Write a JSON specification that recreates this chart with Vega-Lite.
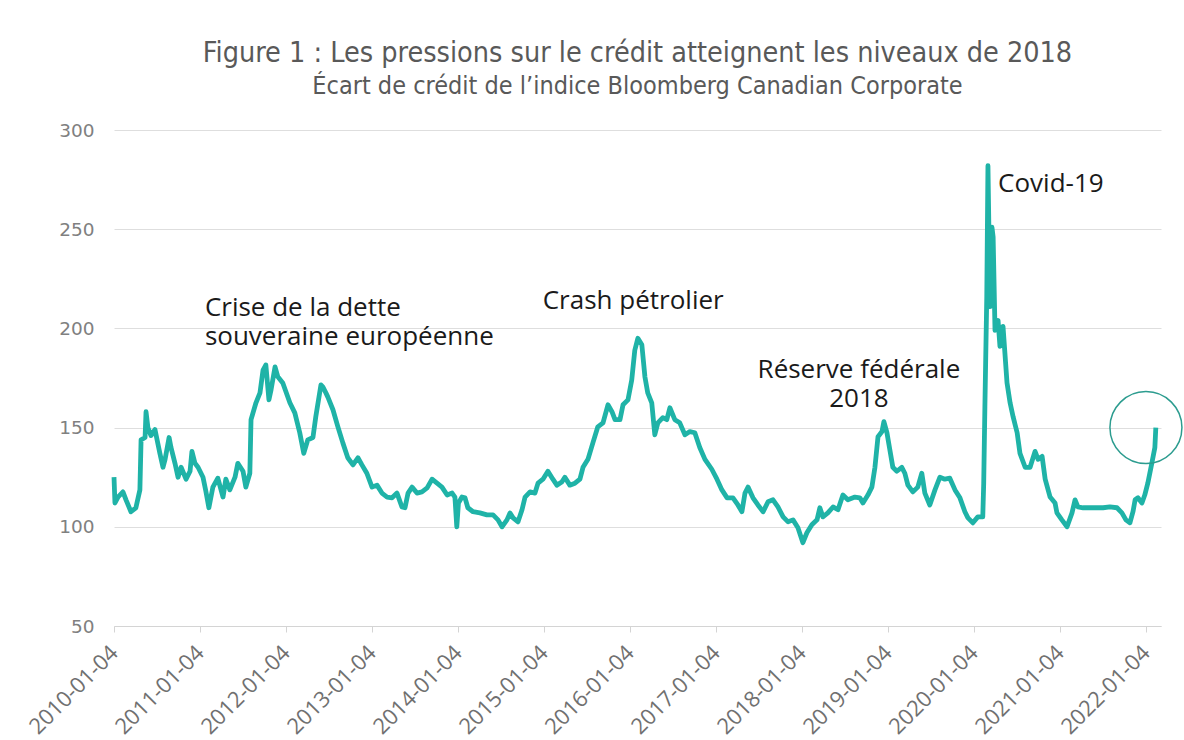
{
  "$schema": "https://vega.github.io/schema/vega-lite/v6.json",
  "width": 1047,
  "height": 496,
  "autosize": {"type": "none"},
  "padding": {"left": 114, "top": 130, "right": 23, "bottom": 114},
  "background": "white",
  "config": {"view": {"stroke": null}},
  "title": {
    "text": "Figure 1 : Les pressions sur le crédit atteignent les niveaux de 2018",
    "subtitle": "Écart de crédit de l’indice Bloomberg Canadian Corporate",
    "font": "DejaVu Sans Condensed, Roboto, sans-serif",
    "fontSize": 28.5,
    "fontWeight": "normal",
    "color": "#595959",
    "subtitleFont": "DejaVu Sans Condensed, Roboto, sans-serif",
    "subtitleFontSize": 25,
    "subtitleColor": "#595959",
    "subtitlePadding": 7,
    "anchor": "middle",
    "frame": "group",
    "offset": 22
  },
  "datasets": {
    "spread": [
      {"date": "2010-01-04", "spread": 125}, {"date": "2010-01-08", "spread": 112}, {"date": "2010-01-21", "spread": 115}, {"date": "2010-02-11", "spread": 117.6}, {"date": "2010-02-24", "spread": 113.6}, {"date": "2010-03-17", "spread": 107.6}, {"date": "2010-04-07", "spread": 109.6}, {"date": "2010-04-24", "spread": 118.6}, {"date": "2010-04-29", "spread": 143.8}, {"date": "2010-05-16", "spread": 145}, {"date": "2010-05-20", "spread": 158}, {"date": "2010-05-28", "spread": 150}, {"date": "2010-06-10", "spread": 146}, {"date": "2010-06-27", "spread": 149}, {"date": "2010-07-18", "spread": 137}, {"date": "2010-07-31", "spread": 130}, {"date": "2010-08-09", "spread": 134}, {"date": "2010-08-26", "spread": 145}, {"date": "2010-09-03", "spread": 140}, {"date": "2010-09-20", "spread": 132}, {"date": "2010-10-03", "spread": 125}, {"date": "2010-10-16", "spread": 130}, {"date": "2010-11-06", "spread": 124}, {"date": "2010-11-23", "spread": 128}, {"date": "2010-12-01", "spread": 138}, {"date": "2010-12-14", "spread": 132}, {"date": "2010-12-27", "spread": 130},
      {"date": "2011-01-17", "spread": 125}, {"date": "2011-01-29", "spread": 118}, {"date": "2011-02-11", "spread": 109.6}, {"date": "2011-02-28", "spread": 120}, {"date": "2011-03-21", "spread": 124.5}, {"date": "2011-04-12", "spread": 115}, {"date": "2011-04-24", "spread": 124}, {"date": "2011-05-11", "spread": 118.6}, {"date": "2011-06-02", "spread": 125}, {"date": "2011-06-14", "spread": 132}, {"date": "2011-07-06", "spread": 128}, {"date": "2011-07-18", "spread": 120}, {"date": "2011-08-04", "spread": 127}, {"date": "2011-08-09", "spread": 154}, {"date": "2011-08-30", "spread": 162.5}, {"date": "2011-09-16", "spread": 167.5}, {"date": "2011-09-29", "spread": 179}, {"date": "2011-10-11", "spread": 181.6}, {"date": "2011-10-24", "spread": 164}, {"date": "2011-11-02", "spread": 169}, {"date": "2011-11-19", "spread": 180.6}, {"date": "2011-12-01", "spread": 175.6}, {"date": "2011-12-22", "spread": 172.5},
      {"date": "2012-01-21", "spread": 162.5}, {"date": "2012-02-11", "spread": 157.4}, {"date": "2012-03-03", "spread": 147.4}, {"date": "2012-03-20", "spread": 137}, {"date": "2012-04-06", "spread": 143.8}, {"date": "2012-04-28", "spread": 145}, {"date": "2012-05-10", "spread": 155.4}, {"date": "2012-06-01", "spread": 171.5}, {"date": "2012-06-09", "spread": 170.5}, {"date": "2012-06-22", "spread": 167.5}, {"date": "2012-06-30", "spread": 165.5}, {"date": "2012-07-22", "spread": 159}, {"date": "2012-08-12", "spread": 150.4}, {"date": "2012-09-02", "spread": 142.3}, {"date": "2012-09-23", "spread": 134.8}, {"date": "2012-10-15", "spread": 131.2}, {"date": "2012-11-05", "spread": 134.8}, {"date": "2012-11-22", "spread": 131.2}, {"date": "2012-12-13", "spread": 127},
      {"date": "2013-01-04", "spread": 120}, {"date": "2013-01-25", "spread": 121}, {"date": "2013-02-15", "spread": 117}, {"date": "2013-03-09", "spread": 115}, {"date": "2013-03-30", "spread": 114.6}, {"date": "2013-04-20", "spread": 117}, {"date": "2013-05-11", "spread": 110}, {"date": "2013-05-24", "spread": 109.6}, {"date": "2013-06-06", "spread": 117}, {"date": "2013-06-23", "spread": 120}, {"date": "2013-07-14", "spread": 117}, {"date": "2013-08-04", "spread": 117.6}, {"date": "2013-08-26", "spread": 119.6}, {"date": "2013-09-16", "spread": 124}, {"date": "2013-10-07", "spread": 122}, {"date": "2013-10-28", "spread": 120}, {"date": "2013-11-19", "spread": 116}, {"date": "2013-12-10", "spread": 117}, {"date": "2013-12-22", "spread": 115}, {"date": "2013-12-30", "spread": 100},
      {"date": "2014-01-06", "spread": 112}, {"date": "2014-01-21", "spread": 115}, {"date": "2014-02-03", "spread": 114.6}, {"date": "2014-02-15", "spread": 109.6}, {"date": "2014-03-09", "spread": 107.6}, {"date": "2014-04-07", "spread": 107}, {"date": "2014-05-07", "spread": 106}, {"date": "2014-06-02", "spread": 106}, {"date": "2014-06-23", "spread": 103.5}, {"date": "2014-07-10", "spread": 100}, {"date": "2014-07-31", "spread": 103.5}, {"date": "2014-08-13", "spread": 107}, {"date": "2014-08-26", "spread": 104.5}, {"date": "2014-09-16", "spread": 102.5}, {"date": "2014-10-03", "spread": 108.6}, {"date": "2014-10-16", "spread": 115}, {"date": "2014-11-06", "spread": 117.6}, {"date": "2014-11-27", "spread": 117}, {"date": "2014-12-10", "spread": 122}, {"date": "2014-12-31", "spread": 124},
      {"date": "2015-01-21", "spread": 128}, {"date": "2015-02-11", "spread": 124}, {"date": "2015-02-28", "spread": 121}, {"date": "2015-03-21", "spread": 122.6}, {"date": "2015-04-03", "spread": 125}, {"date": "2015-04-24", "spread": 121}, {"date": "2015-05-16", "spread": 122}, {"date": "2015-06-06", "spread": 124}, {"date": "2015-06-19", "spread": 130}, {"date": "2015-07-10", "spread": 134}, {"date": "2015-07-31", "spread": 142.3}, {"date": "2015-08-21", "spread": 150.4}, {"date": "2015-09-12", "spread": 152.4}, {"date": "2015-10-03", "spread": 161.5}, {"date": "2015-10-20", "spread": 158}, {"date": "2015-11-02", "spread": 154}, {"date": "2015-11-23", "spread": 154}, {"date": "2015-12-06", "spread": 161.5}, {"date": "2015-12-27", "spread": 164},
      {"date": "2016-01-12", "spread": 174}, {"date": "2016-01-25", "spread": 189}, {"date": "2016-02-07", "spread": 195}, {"date": "2016-02-24", "spread": 191.7}, {"date": "2016-03-08", "spread": 175.6}, {"date": "2016-03-20", "spread": 167.5}, {"date": "2016-04-06", "spread": 162.5}, {"date": "2016-04-19", "spread": 146.4}, {"date": "2016-05-02", "spread": 152.4}, {"date": "2016-05-23", "spread": 155}, {"date": "2016-06-09", "spread": 154}, {"date": "2016-06-22", "spread": 160}, {"date": "2016-07-13", "spread": 154}, {"date": "2016-08-03", "spread": 152.4}, {"date": "2016-08-25", "spread": 146.4}, {"date": "2016-09-15", "spread": 148}, {"date": "2016-10-06", "spread": 147.4}, {"date": "2016-10-27", "spread": 140}, {"date": "2016-11-18", "spread": 134}, {"date": "2016-12-17", "spread": 129},
      {"date": "2017-01-08", "spread": 124}, {"date": "2017-01-29", "spread": 118.6}, {"date": "2017-02-20", "spread": 114.6}, {"date": "2017-03-17", "spread": 114.6}, {"date": "2017-04-07", "spread": 111}, {"date": "2017-04-24", "spread": 107.6}, {"date": "2017-05-07", "spread": 117}, {"date": "2017-05-20", "spread": 120}, {"date": "2017-06-10", "spread": 114.6}, {"date": "2017-07-01", "spread": 111}, {"date": "2017-07-23", "spread": 107.6}, {"date": "2017-08-13", "spread": 112.6}, {"date": "2017-09-03", "spread": 113.6}, {"date": "2017-09-24", "spread": 110}, {"date": "2017-10-16", "spread": 105}, {"date": "2017-11-06", "spread": 102.5}, {"date": "2017-11-27", "spread": 103.5}, {"date": "2017-12-18", "spread": 99.5},
      {"date": "2018-01-08", "spread": 92}, {"date": "2018-01-25", "spread": 97}, {"date": "2018-02-15", "spread": 101}, {"date": "2018-03-09", "spread": 103.5}, {"date": "2018-03-21", "spread": 109.6}, {"date": "2018-04-03", "spread": 105}, {"date": "2018-04-24", "spread": 107}, {"date": "2018-05-16", "spread": 110}, {"date": "2018-06-06", "spread": 108.6}, {"date": "2018-06-27", "spread": 116}, {"date": "2018-07-18", "spread": 113.6}, {"date": "2018-08-17", "spread": 115}, {"date": "2018-09-07", "spread": 114.6}, {"date": "2018-09-20", "spread": 112}, {"date": "2018-10-11", "spread": 116}, {"date": "2018-10-28", "spread": 120}, {"date": "2018-11-10", "spread": 130}, {"date": "2018-11-23", "spread": 145.4}, {"date": "2018-12-10", "spread": 148}, {"date": "2018-12-18", "spread": 153}, {"date": "2018-12-31", "spread": 147.4},
      {"date": "2019-01-12", "spread": 139}, {"date": "2019-01-25", "spread": 130}, {"date": "2019-02-11", "spread": 128}, {"date": "2019-03-04", "spread": 130}, {"date": "2019-03-17", "spread": 127}, {"date": "2019-03-30", "spread": 121}, {"date": "2019-04-20", "spread": 117.6}, {"date": "2019-05-11", "spread": 120}, {"date": "2019-05-28", "spread": 127}, {"date": "2019-06-10", "spread": 117}, {"date": "2019-07-01", "spread": 111}, {"date": "2019-07-23", "spread": 118.6}, {"date": "2019-08-13", "spread": 125}, {"date": "2019-09-03", "spread": 124}, {"date": "2019-09-24", "spread": 124.5}, {"date": "2019-10-16", "spread": 118.6}, {"date": "2019-11-06", "spread": 114.6}, {"date": "2019-11-27", "spread": 107.6}, {"date": "2019-12-10", "spread": 104.5}, {"date": "2019-12-31", "spread": 102},
      {"date": "2020-01-21", "spread": 105}, {"date": "2020-02-11", "spread": 105}, {"date": "2020-02-15", "spread": 122}, {"date": "2020-02-20", "spread": 160.5}, {"date": "2020-02-28", "spread": 216}, {"date": "2020-03-04", "spread": 282}, {"date": "2020-03-13", "spread": 211}, {"date": "2020-03-21", "spread": 251}, {"date": "2020-03-26", "spread": 246}, {"date": "2020-04-03", "spread": 199}, {"date": "2020-04-16", "spread": 204}, {"date": "2020-04-24", "spread": 191}, {"date": "2020-05-07", "spread": 201}, {"date": "2020-05-24", "spread": 172.5}, {"date": "2020-06-06", "spread": 162.5}, {"date": "2020-06-19", "spread": 155.4}, {"date": "2020-07-06", "spread": 147.4}, {"date": "2020-07-18", "spread": 137}, {"date": "2020-08-09", "spread": 130}, {"date": "2020-08-30", "spread": 130}, {"date": "2020-09-20", "spread": 138}, {"date": "2020-10-03", "spread": 134}, {"date": "2020-10-20", "spread": 135.5}, {"date": "2020-11-02", "spread": 124}, {"date": "2020-11-23", "spread": 115}, {"date": "2020-12-14", "spread": 112}, {"date": "2020-12-22", "spread": 107},
      {"date": "2021-01-12", "spread": 103.5}, {"date": "2021-02-03", "spread": 100}, {"date": "2021-02-24", "spread": 107}, {"date": "2021-03-09", "spread": 113.6}, {"date": "2021-03-21", "spread": 110}, {"date": "2021-04-12", "spread": 109.6}, {"date": "2021-05-11", "spread": 109.6}, {"date": "2021-06-10", "spread": 109.6}, {"date": "2021-07-06", "spread": 109.6}, {"date": "2021-08-04", "spread": 110}, {"date": "2021-09-03", "spread": 109.6}, {"date": "2021-09-24", "spread": 107}, {"date": "2021-10-11", "spread": 103.5}, {"date": "2021-10-28", "spread": 102}, {"date": "2021-11-10", "spread": 107.6}, {"date": "2021-11-19", "spread": 113.6}, {"date": "2021-12-01", "spread": 114.6}, {"date": "2021-12-18", "spread": 112}, {"date": "2021-12-30", "spread": 116},
      {"date": "2022-01-12", "spread": 122}, {"date": "2022-01-29", "spread": 132}, {"date": "2022-02-11", "spread": 140}, {"date": "2022-02-15", "spread": 150}
    ],
    "notesLeft": [
      {"date": "2011-01-25", "value": 206, "label": "Crise de la dette"},
      {"date": "2011-01-25", "value": 191.6, "label": "souveraine européenne"},
      {"date": "2014-12-30", "value": 210, "label": "Crash pétrolier"},
      {"date": "2020-04-16", "value": 268.5, "label": "Covid-19"}
    ],
    "notesCenter": [
      {"date": "2018-09-03", "value": 175, "label": "Réserve fédérale"},
      {"date": "2018-09-03", "value": 160.3, "label": "2018"}
    ],
    "highlight": [
      {"date": "2022-01-04", "value": 150}
    ]
  },
  "layer": [
    {
      "data": {"name": "spread"},
      "mark": {"type": "line", "color": "#1fb3a7", "strokeWidth": 4.8, "strokeJoin": "round"},
      "encoding": {
        "x": {
          "field": "date", "type": "temporal",
          "scale": {"type": "utc", "domain": [{"year": 2010, "month": 1, "date": 4, "utc": true}, {"year": 2022, "month": 3, "date": 9, "utc": true}]},
          "axis": {
            "title": null,
            "values": [
              {"year": 2010, "month": 1, "date": 4, "utc": true}, {"year": 2011, "month": 1, "date": 4, "utc": true}, {"year": 2012, "month": 1, "date": 4, "utc": true}, {"year": 2013, "month": 1, "date": 4, "utc": true}, {"year": 2014, "month": 1, "date": 4, "utc": true}, {"year": 2015, "month": 1, "date": 4, "utc": true}, {"year": 2016, "month": 1, "date": 4, "utc": true}, {"year": 2017, "month": 1, "date": 4, "utc": true}, {"year": 2018, "month": 1, "date": 4, "utc": true}, {"year": 2019, "month": 1, "date": 4, "utc": true}, {"year": 2020, "month": 1, "date": 4, "utc": true}, {"year": 2021, "month": 1, "date": 4, "utc": true}, {"year": 2022, "month": 1, "date": 4, "utc": true}
            ],
            "labelExpr": "utcFormat(datum.value, '%Y-%m-%d')",
            "labelAngle": -45,
            "labelAlign": "right",
            "labelBaseline": "middle",
            "labelFont": "Open Sans",
            "labelFontSize": 22,
            "labelColor": "#707070",
            "labelPadding": 17,
            "labelOverlap": false,
            "labelFlush": false,
            "grid": false,
            "domainColor": "#d4d4d4",
            "tickColor": "#d4d4d4",
            "tickSize": 6
          }
        },
        "y": {
          "field": "spread", "type": "quantitative",
          "scale": {"domain": [50, 300], "nice": false, "zero": false},
          "axis": {
            "title": null,
            "values": [50, 100, 150, 200, 250, 300],
            "domain": false,
            "ticks": false,
            "gridColor": "#dedede",
            "labelFont": "DejaVu Sans",
            "labelFontSize": 18.5,
            "labelColor": "#808080",
            "labelPadding": 20
          }
        }
      }
    },
    {
      "data": {"name": "notesLeft"},
      "mark": {"type": "text", "font": "Open Sans", "fontSize": 26, "color": "#1a1a1a", "align": "left", "baseline": "alphabetic"},
      "encoding": {
        "x": {"field": "date", "type": "temporal"},
        "y": {"field": "value", "type": "quantitative"},
        "text": {"field": "label"}
      }
    },
    {
      "data": {"name": "notesCenter"},
      "mark": {"type": "text", "font": "Open Sans", "fontSize": 26, "color": "#1a1a1a", "align": "center", "baseline": "alphabetic"},
      "encoding": {
        "x": {"field": "date", "type": "temporal"},
        "y": {"field": "value", "type": "quantitative"},
        "text": {"field": "label"}
      }
    },
    {
      "data": {"name": "highlight"},
      "mark": {"type": "point", "shape": "circle", "filled": false, "size": 5184, "stroke": "#2c9c8f", "strokeWidth": 1.5, "opacity": 1},
      "encoding": {
        "x": {"field": "date", "type": "temporal"},
        "y": {"field": "value", "type": "quantitative"}
      }
    }
  ]
}
